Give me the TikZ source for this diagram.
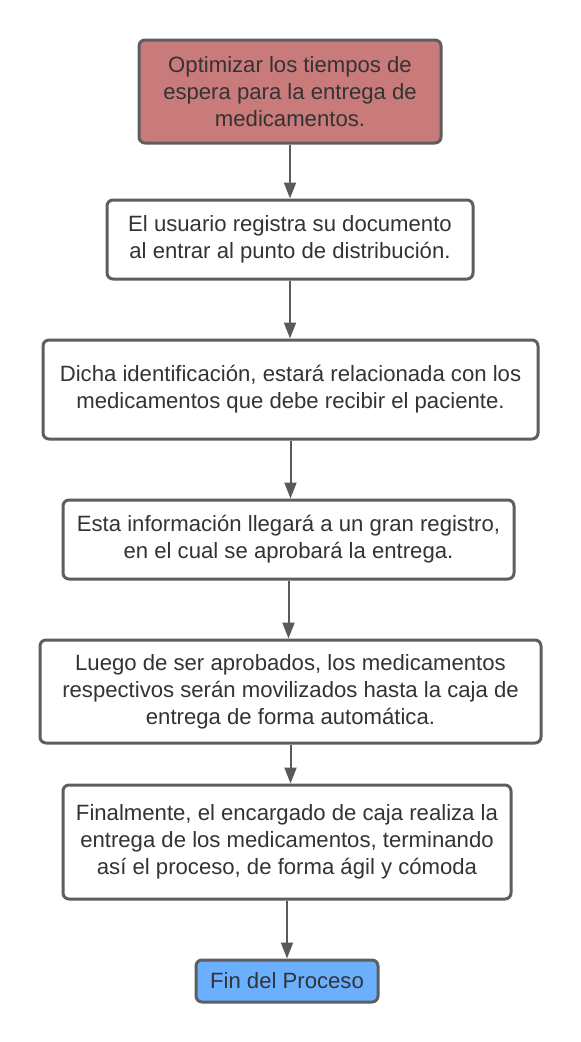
\documentclass[tikz,border=0pt]{standalone}
\usepackage{fontspec}
\setmainfont{Liberation Sans}
\usetikzlibrary{arrows.meta}
\definecolor{bordergray}{HTML}{5E5E5E}
\definecolor{txtgray}{HTML}{333333}
\definecolor{redfill}{HTML}{C97A7A}
\definecolor{bluefill}{HTML}{6BB0FF}
\definecolor{arrowgray}{HTML}{5A5A5A}
\tikzset{
  stepbox/.style={draw=bordergray, line width=2.25pt, rounded corners=4.5pt, fill=white,
    text=txtgray, align=center, inner sep=0pt,
    font=\fontsize{16.6pt}{20.25pt}\selectfont},
  flowarrow/.style={draw=arrowgray, line width=1.5pt, -{Triangle[length=12pt,width=9pt]}}
}
\begin{document}
\begin{tikzpicture}[x=0.75pt,y=-0.75pt]
\useasboundingbox (0,0) rectangle (581,1042);
\node[stepbox, fill=redfill, minimum width=302*0.75pt, minimum height=103*0.75pt] (b1) at (290,91.5)
  {Optimizar los tiempos de\\espera para la entrega de\\medicamentos.};
\node[stepbox, minimum width=366*0.75pt, minimum height=79*0.75pt] (b2) at (290,239.5)
  {El usuario registra su documento\\al entrar al punto de distribución.};
\node[stepbox, minimum width=495*0.75pt, minimum height=99*0.75pt] (b3) at (290.5,389.5)
  {Dicha identificación, estará relacionada con los\\medicamentos que debe recibir el paciente.};
\node[stepbox, minimum width=451*0.75pt, minimum height=79*0.75pt] (b4) at (288.5,539.5)
  {Esta información llegará a un gran registro,\\en el cual se aprobará la entrega.};
\node[stepbox, minimum width=501*0.75pt, minimum height=103*0.75pt] (b5) at (290.5,691.5)
  {Luego de ser aprobados, los medicamentos\\respectivos serán movilizados hasta la caja de\\entrega de forma automática.};
\node[stepbox, minimum width=448*0.75pt, minimum height=114*0.75pt] (b6) at (287,842)
  {Finalmente, el encargado de caja realiza la\\entrega de los medicamentos, terminando\\así el proceso, de forma ágil y cómoda};
\node[stepbox, fill=bluefill, minimum width=182*0.75pt, minimum height=42*0.75pt] (b7) at (287,981)
  {Fin del Proceso};
\draw[flowarrow] (b1.south) -- (b1.south |- b2.north);
\draw[flowarrow] (b2.south) -- (b2.south |- b3.north);
\draw[flowarrow] (b3.south) -- (b3.south |- b4.north);
\draw[flowarrow] (b4.south) -- (b4.south |- b5.north);
\draw[flowarrow] (b5.south) -- (b5.south |- b6.north);
\draw[flowarrow] (b6.south) -- (b6.south |- b7.north);
\end{tikzpicture}
\end{document}
